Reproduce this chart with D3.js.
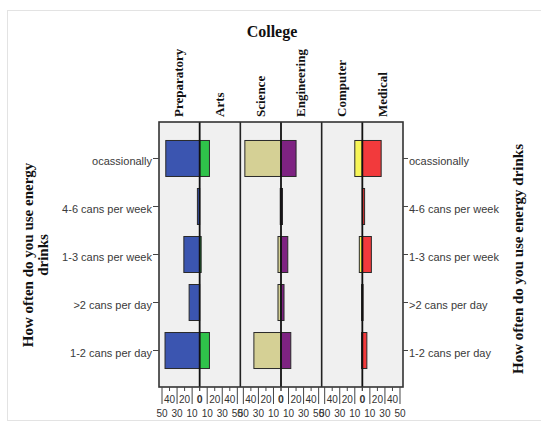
<!DOCTYPE html>
<html>
<head>
<meta charset="utf-8">
<script src="https://cdn.jsdelivr.net/npm/d3@7"></script>
<style>
    body { margin: 0; background: #fff; }
    svg { display: block; }
</style>
</head>
<body>
<div id="chart"></div>
<script>
// Data (counts per frequency category)
const categories = ['ocassionally', '4-6 cans per week', '1-3 cans per week', '>2 cans per day', '1-2 cans per day'];
const colleges = ['Preparatory', 'Arts', 'Science', 'Engineering', 'Computer', 'Medical'];
const preparatory = [45, 3, 21, 14, 46];
const arts = [13, 0, 2, 0, 13];
const science = [48, 1, 4, 4, 36];
const engineering = [20, 2, 9, 4, 13];
const computer = [10, 0, 4, 1, 1];
const medical = [25, 3, 12, 1, 6];
const tickValues = [0, 10, 20, 30, 40, 50];
const colors = ['#3b55b0', '#2fc24a', '#d5d095', '#7e2382', '#f7f558', '#f23a3c'];

const series = [preparatory, arts, science, engineering, computer, medical];

// Constants
const WIDTH = 541;
const HEIGHT = 427;
const PANEL_LEFT = 159;
const PANEL_RIGHT = 403;
const PANEL_TOP = 122;
const PANEL_BOTTOM = 387;
const MAX_VALUE = 54;
const SERIF = '"Liberation Serif", "Times New Roman", serif';
const SANS = '"Liberation Sans", Arial, sans-serif';

const svg = d3.select('#chart')
    .append('svg').attr('width', WIDTH).attr('height', HEIGHT);

// outer light frame
svg.append('rect')
    .attr('x', 7.5).attr('y', 10.5)
    .attr('width', 600).attr('height', 410)
    .attr('fill', 'none')
    .attr('stroke', '#e3e3e3');

// Scales
const pairScale = d3.scaleBand()
    .domain([0, 1, 2])
    .range([PANEL_LEFT, PANEL_RIGHT]);
const half = pairScale.bandwidth() / 2;

const yScale = d3.scaleBand()
    .domain(categories)
    .range([PANEL_TOP, PANEL_BOTTOM])
    .paddingInner(0.25)
    .paddingOuter(0.385);

// one scale per college, left member of the pair grows to the left
const xScales = colleges.map((c, i) => {
    const pair = Math.floor(i / 2);
    const center = pairScale(pair) + half;
    const outer = i % 2 === 0 ? center - half : center + half;
    return d3.scaleLinear().domain([0, MAX_VALUE]).range([center, outer]);
});

// Panel backgrounds
svg.append('rect')
    .attr('x', PANEL_LEFT).attr('y', PANEL_TOP)
    .attr('width', PANEL_RIGHT - PANEL_LEFT).attr('height', PANEL_BOTTOM - PANEL_TOP)
    .attr('fill', '#f0f0f0');

// Bars
colleges.forEach((c, i) => {
    const x = xScales[i];
    const data = categories.map((cat, j) => ({ cat: cat, value: series[i][j] }))
        .filter(d => d.value > 0);
    svg.append('g')
        .attr('class', 'bars-' + c)
        .selectAll('rect')
        .data(data)
        .join('rect')
        .attr('x', d => Math.min(x(0), x(d.value)))
        .attr('y', d => yScale(d.cat))
        .attr('width', d => Math.abs(x(d.value) - x(0)))
        .attr('height', yScale.bandwidth())
        .attr('fill', colors[i])
        .attr('stroke', '#2a2a2a')
        .attr('stroke-width', 1);
});

// Center lines and separators
[0, 1, 2].forEach(p => {
    const center = pairScale(p) + half;
    svg.append('line')
        .attr('x1', center).attr('x2', center)
        .attr('y1', PANEL_TOP).attr('y2', PANEL_BOTTOM)
        .attr('stroke', '#111').attr('stroke-width', 1.8);
    if (p > 0) {
        svg.append('line')
            .attr('x1', pairScale(p)).attr('x2', pairScale(p))
            .attr('y1', PANEL_TOP).attr('y2', PANEL_BOTTOM)
            .attr('stroke', '#222').attr('stroke-width', 1.6);
    }
});

svg.append('rect')
    .attr('x', PANEL_LEFT).attr('y', PANEL_TOP)
    .attr('width', PANEL_RIGHT - PANEL_LEFT).attr('height', PANEL_BOTTOM - PANEL_TOP)
    .attr('fill', 'none')
    .attr('stroke', '#333').attr('stroke-width', 1.6);

// Bottom axes: even labels on upper row, odd labels on lower row
colleges.forEach((c, i) => {
    const x = xScales[i];
    const g = svg.append('g').attr('class', 'x-axis-' + c);
    tickValues.forEach(t => {
        const odd = (t / 10) % 2 === 1;
        g.append('line')
            .attr('x1', x(t)).attr('x2', x(t))
            .attr('y1', PANEL_BOTTOM).attr('y2', PANEL_BOTTOM + (odd ? 17 : 4))
            .attr('stroke', '#444').attr('stroke-width', 1);
        if (t === 0 && i % 2 === 0) return; // zero drawn once per pair
        g.append('text')
            .attr('x', x(t))
            .attr('y', PANEL_BOTTOM + (odd ? 30 : 16))
            .attr('text-anchor', 'middle')
            .attr('font-family', SANS)
            .attr('font-size', t === 0 ? 10.5 : 10)
            .attr('font-weight', t === 0 ? 'bold' : 'normal')
            .attr('fill', '#333')
            .text(t);
    });
});

// Left and right category axes
const leftAxis = d3.axisLeft(yScale).tickSize(6).tickPadding(1);
const rightAxis = d3.axisRight(yScale).tickSize(5).tickPadding(1);

svg.append('g')
    .attr('class', 'y-left-axis')
    .attr('transform', `translate(${PANEL_LEFT},0)`)
    .call(leftAxis)
    .call(g => g.select('.domain').remove());
svg.append('g')
    .attr('class', 'y-right-axis')
    .attr('transform', `translate(${PANEL_RIGHT},0)`)
    .call(rightAxis)
    .call(g => g.select('.domain').remove());

svg.selectAll('.y-left-axis text, .y-right-axis text')
    .attr('font-family', SANS)
    .attr('font-size', 11)
    .attr('fill', '#3a3a3a')
    .attr('dy', '0.55em');
svg.selectAll('.y-left-axis line, .y-right-axis line')
    .attr('stroke', '#444');

// Column headers
colleges.forEach((c, i) => {
    const x = xScales[i];
    const mid = (x(0) + x(MAX_VALUE)) / 2 + 4;
    svg.append('text')
        .attr('transform', `translate(${mid},117) rotate(-90)`)
        .attr('font-family', SERIF)
        .attr('font-weight', 'bold')
        .attr('font-size', 13)
        .attr('fill', '#111')
        .text(c);
});

// Titles
svg.append('text')
    .attr('x', 272).attr('y', 37)
    .attr('text-anchor', 'middle')
    .attr('font-family', SERIF)
    .attr('font-weight', 'bold')
    .attr('font-size', 16)
    .attr('fill', '#111')
    .text('College');

const leftTitle = svg.append('text')
    .attr('transform', 'translate(33,255) rotate(-90)')
    .attr('text-anchor', 'middle')
    .attr('font-family', SERIF)
    .attr('font-weight', 'bold')
    .attr('font-size', 15)
    .attr('fill', '#111');
leftTitle.append('tspan').attr('x', 0).attr('dy', 0).text('How often do you use energy');
leftTitle.append('tspan').attr('x', 0).attr('dy', 15).text('drinks');

svg.append('text')
    .attr('transform', 'translate(523,259) rotate(-90)')
    .attr('text-anchor', 'middle')
    .attr('font-family', SERIF)
    .attr('font-weight', 'bold')
    .attr('font-size', 15)
    .attr('fill', '#111')
    .text('How often do you use energy drinks');
</script>
</body>
</html>
